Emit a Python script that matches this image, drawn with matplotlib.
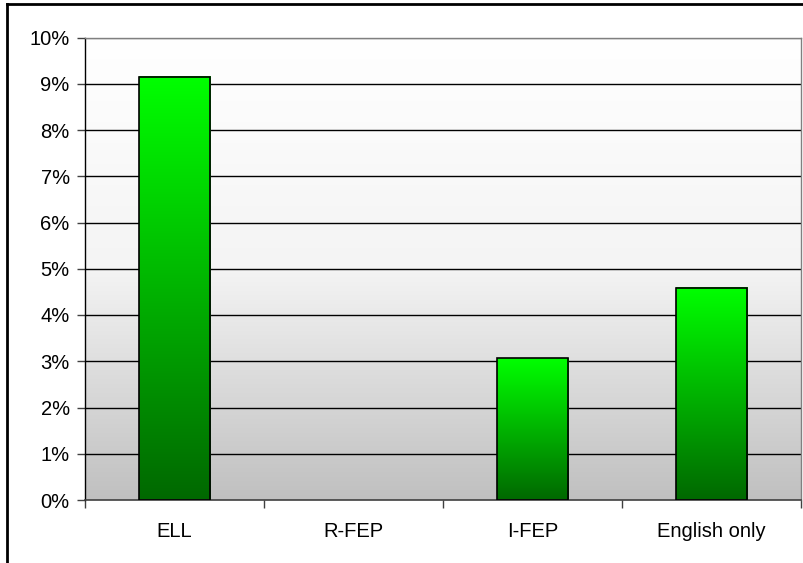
import numpy as np
import matplotlib
matplotlib.use("Agg")
import matplotlib.pyplot as plt
from matplotlib.colors import LinearSegmentedColormap
from matplotlib.lines import Line2D

categories = ["ELL", "R-FEP", "I-FEP", "English only"]
values = [9.15, 0.0, 3.06, 4.59]
yticks = [0, 1, 2, 3, 4, 5, 6, 7, 8, 9, 10]
ytick_labels = ["0%", "1%", "2%", "3%", "4%", "5%", "6%", "7%", "8%", "9%", "10%"]

plt.rcParams['font.family'] = ['Liberation Sans', 'DejaVu Sans']

W, H = 804, 563
fig = plt.figure(figsize=(W / 100, H / 100), dpi=100)
ax = fig.add_axes([85 / W, 1 - 500 / H, (801 - 85) / W, (500 - 37.5) / H])

x = np.arange(len(categories))

# background gradient (white at top, gray at bottom)
bg = np.linspace(0, 1, 256).reshape(-1, 1)
bg_cmap = LinearSegmentedColormap.from_list("bg", ["#ffffff", "#f4f4f4", "#c0c0c0"])
ax.imshow(bg, cmap=bg_cmap, aspect="auto", extent=[0, 1, 0, 1], origin="upper",
          transform=ax.transAxes, zorder=0, interpolation="bilinear")

# gridlines
for t in yticks[1:]:
    ax.axhline(t, color="#000000" if t < 10 else "#808080", lw=1.0, zorder=1)

bar_cmap = LinearSegmentedColormap.from_list("bar", ["#00ff00", "#006800"])
bars = ax.bar(x, values, width=0.4, facecolor="none", edgecolor="black",
              linewidth=1.2, zorder=3)
grad = np.linspace(0, 1, 256).reshape(-1, 1)
for b in bars:
    h = b.get_height()
    if h <= 0:
        b.set_linewidth(0)
        continue
    x0 = b.get_x()
    ax.imshow(grad, cmap=bar_cmap, aspect="auto",
              extent=[x0, x0 + b.get_width(), 0, h], origin="upper",
              zorder=2, interpolation="bilinear")
ax.set_xlim(-0.5, len(categories) - 0.5)
ax.set_ylim(0, 10)

# spines
for s in ["top", "right"]:
    ax.spines[s].set_color("#808080")
    ax.spines[s].set_linewidth(1.0)
ax.spines["left"].set_color("#000000")
ax.spines["left"].set_linewidth(1.0)
ax.spines["bottom"].set_color("#404040")
ax.spines["bottom"].set_linewidth(1.2)

ax.set_yticks(yticks)
ax.set_yticklabels(ytick_labels, fontsize=14.5)
ax.tick_params(axis="y", direction="out", length=6, width=1, color="#404040", pad=5)

ax.set_xticks(x)
ax.set_xticklabels(categories, fontsize=14.5)
ax.tick_params(axis="x", length=0, pad=16)
ax.set_xticks(np.arange(-0.5, len(categories), 1.0), minor=True)
ax.tick_params(axis="x", which="minor", direction="out", length=6, width=1, color="#404040")

# figure frame (left and top borders)
fig.add_artist(Line2D([7 / W, 7 / W], [0, 1 - 4 / H], transform=fig.transFigure,
                      color="black", lw=2))
fig.add_artist(Line2D([7 / W, 1], [1 - 4 / H, 1 - 4 / H], transform=fig.transFigure,
                      color="black", lw=2))

fig.savefig("out.png", dpi=100)
